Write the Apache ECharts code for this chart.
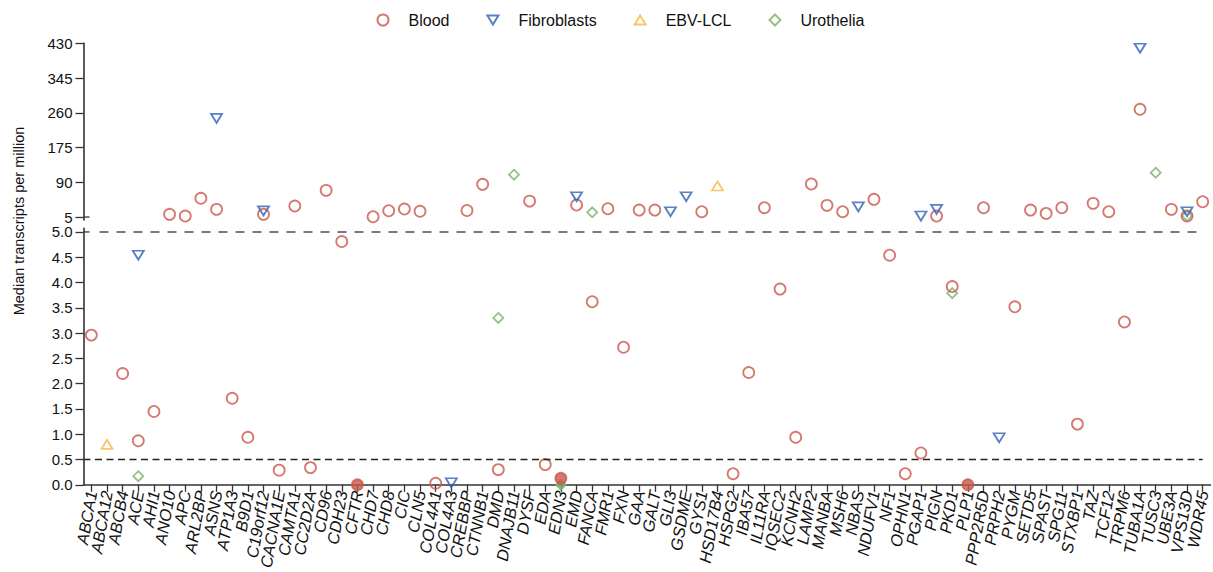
<!DOCTYPE html>
<html><head><meta charset="utf-8">
<script src="https://cdn.jsdelivr.net/npm/echarts@6/dist/echarts.min.js"></script>
<style>html,body{margin:0;padding:0;background:#fff}#c{width:1213px;height:572px}</style>
</head><body><div id="c"></div><script>
const genes = ['ABCA1','ABCA12','ABCB4','ACE','AHI1','ANO10','APC','ARL2BP','ASNS','ATP1A3','B9D1','C19orf12','CACNA1E','CAMTA1','CC2D2A','CD96','CDH23','CFTR','CHD7','CHD8','CIC','CLN5','COL4A1','COL4A3','CREBBP','CTNNB1','DMD','DNAJB11','DYSF','EDA','EDN3','EMD','FANCA','FMR1','FXN','GAA','GALT','GLI3','GSDME','GYS1','HSD17B4','HSPG2','IBA57','IL11RA','IQSEC2','KCNH2','LAMP2','MANBA','MSH6','NBAS','NDUFV1','NF1','OPHN1','PGAP1','PIGN','PKD1','PLP1','PPP2R5D','PRPH2','PYGM','SETD5','SPAST','SPG11','STXBP1','TAZ','TCF12','TRPM6','TUBA1A','TUSC3','UBE3A','VPS13D','WDR45'];

const blood = [2.96,null,2.20,0.87,1.45,11.6,7.4,50.8,23.8,1.71,0.94,11.6,0.29,31.9,0.34,70.3,4.81,0,5.7,20.4,24.6,19,0.03,null,21,85,0.30,null,44,0.40,0.13,34.4,3.62,25.3,2.72,22,22,null,null,18,null,0.22,2.22,27.8,3.87,0.94,85.8,33.6,18,null,48.3,4.54,0.22,0.63,7.4,3.92,0,27.8,null,3.52,22,14,27.8,1.20,38.5,18,3.22,268.5,null,23.8,7.4,42.4];

const fibroblasts = {ACE:4.54, ASNS:246.5, C19orf12:20, COL4A3:0.04, EMD:54.7, GLI3:18, GSDME:54.7, NBAS:30, PGAP1:7.4, PIGN:23.8, PRPH2:0.93, TUBA1A:418, VPS13D:18};
const ebvLcl = {ABCA12:0.80, HSD17B4:81};
const urothelia = {ACE:0.17, DMD:3.30, DNAJB11:108.5, EDN3:0, FANCA:16.5, PKD1:3.79, TUSC3:113.4, VPS13D:8};

const bloodFilled = ['CFTR','EDN3','PLP1'];
const urotheliaFilled = ['EDN3'];

const upperTicks = [5,90,175,260,345,430];
const lowerTicks = [0,0.5,1.0,1.5,2.0,2.5,3.0,3.5,4.0,4.5,5.0];
const breakValue = 5;
const thresholds = [5.0, 0.5];

const FONT = "'Liberation Sans', Arial, sans-serif";
const AX = '#333';
const L = 83.5, R = 2.5;

function toArr(obj){ return genes.map(g => (g in obj) ? obj[g] : null); }

function makeSeries(name, values, filled, sym, color, size, rotate, z){
  const out = [];
  [0,1].forEach(idx => {
    const data = [];
    genes.forEach((g,i) => {
      const v = values[i];
      if (v === null || v === undefined) return;
      const up = v > breakValue;
      if ((idx === 0) !== up) return;
      const item = {value:[g, v]};
      if (filled.includes(g)) item.itemStyle = {color: color, borderColor: color};
      data.push(item);
    });
    out.push({
      name, type:'scatter', xAxisIndex: idx, yAxisIndex: idx, data,
      symbol: sym, symbolSize: size, symbolRotate: rotate, z,
      itemStyle:{color:'rgba(255,255,255,0)', borderColor: color, borderWidth: 1.8},
      emphasis:{disabled:true}
    });
  });
  return out;
}

const series = [].concat(
  makeSeries('Blood', blood, bloodFilled, 'circle', '#C9584B', 11, 0, 3),
  makeSeries('Fibroblasts', toArr(fibroblasts), [], 'triangle', '#2E62BA', [11,9], 180, 4),
  makeSeries('EBV-LCL', toArr(ebvLcl), [], 'triangle', '#F6B944', [11,9], 0, 4),
  makeSeries('Urothelia', toArr(urothelia), urotheliaFilled, 'diamond', '#7AB26A', 10, 0, 2)
);

const catAxis = (grid, show) => ({
  type:'category', gridIndex: grid, data: genes, boundaryGap:true, show,
  axisLine:{show, onZero:false, lineStyle:{color:AX, width:1.6}},
  axisTick:{show, alignWithLabel:true, length:7, lineStyle:{color:AX, width:1.3}},
  axisLabel:{show, interval:0, rotate:80, margin:6, fontFamily:FONT, fontSize:16.5, fontStyle:'italic', color:'#111'},
  splitLine:{show:false}
});

const option = {
  backgroundColor:'#fff',
  animation:false,
  legend:{
    left:371.5, top:7, itemWidth:11, itemHeight:11, itemGap:37,
    textStyle:{fontFamily:FONT, fontSize:16, color:'#111', padding:[0,0,0,15]},
    data:[
      {name:'Blood'},
      {name:'Fibroblasts', icon:'path://M0,0L12,0L6,10Z'},
      {name:'EBV-LCL', icon:'path://M6,0L12,10L0,10Z'},
      {name:'Urothelia'}
    ]
  },
  grid:[
    {left:L, right:R, top:43.3, height:176.6},
    {left:L, right:R, top:228.4, height:262.1}
  ],
  xAxis:[catAxis(0,false), catAxis(1,true)],
  yAxis:[
    {type:'value', gridIndex:0, min:-2, max:430,
     axisLine:{show:true, lineStyle:{color:AX, width:1.6}},
     axisTick:{show:true, length:8, customValues: upperTicks, lineStyle:{color:AX, width:1.3}},
     axisLabel:{margin:11, customValues: upperTicks, fontFamily:FONT, fontSize:15, color:'#111'},
     splitLine:{show:false}},
    {type:'value', gridIndex:1, min:0, max:5.07,
     axisLine:{show:true, lineStyle:{color:AX, width:1.6}},
     axisTick:{show:true, length:8, customValues: lowerTicks, lineStyle:{color:AX, width:1.3}},
     axisLabel:{margin:11, customValues: lowerTicks, fontFamily:FONT, fontSize:15, color:'#111',
       formatter: v => Number(v).toFixed(1)},
     splitLine:{show:false}}
  ],
  series
};

const chart = echarts.init(document.getElementById('c'), null, {renderer:'svg'});
chart.setOption(option);

const yUp = chart.convertToPixel({yAxisIndex:0}, breakValue);
const yLo = chart.convertToPixel({yAxisIndex:1}, breakValue);
const yT0 = chart.convertToPixel({yAxisIndex:1}, thresholds[0]);
const yT1 = chart.convertToPixel({yAxisIndex:1}, thresholds[1]);
const lastGene = genes[genes.length-1];

const seriesUpdate = series.map(() => ({}));
seriesUpdate[1] = {
  markLine:{
    silent:true, symbol:['none','none'], label:{show:false},
    data:[
      [{x:L+16, y:yT0, lineStyle:{color:'#7a7a7a', type:[9,8], width:2}}, {coord:[lastGene, thresholds[0]]}],
      [{x:L, y:yT1, lineStyle:{color:'#222', type:[7,4.5], width:1.4}}, {coord:[lastGene, thresholds[1]]}]
    ]
  }
};

chart.setOption({
  series: seriesUpdate,
  graphic:[
    {type:'line', shape:{x1:L, y1:yUp, x2:L+6, y2:yUp}, style:{stroke:AX, lineWidth:1.3}, silent:true},
    {type:'line', shape:{x1:L, y1:yLo, x2:L+6, y2:yLo}, style:{stroke:AX, lineWidth:1.3}, silent:true},
    {type:'text', x:19, y:221, rotation:Math.PI/2,
     style:{text:'Median transcripts per million', font:"14.5px 'Liberation Sans', Arial, sans-serif", fill:'#111', align:'center', verticalAlign:'middle'}, silent:true}
  ]
});
</script></body></html>
